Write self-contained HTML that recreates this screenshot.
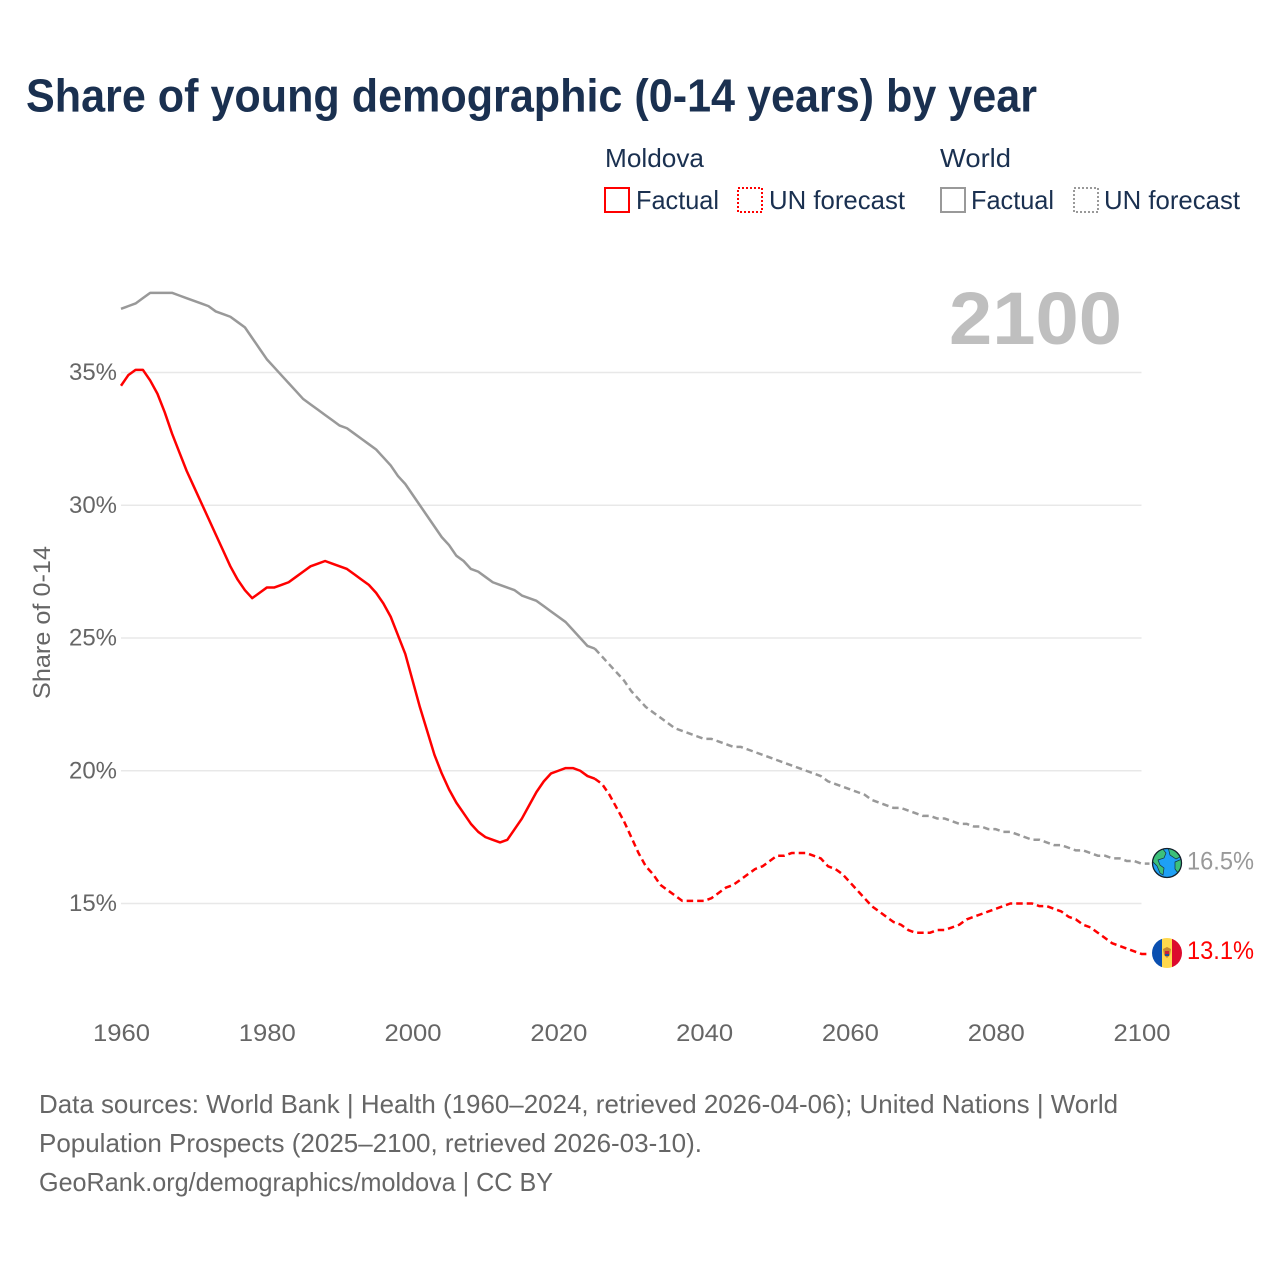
<!DOCTYPE html>
<html lang="en">
<head>
<meta charset="utf-8">
<title>Share of young demographic (0-14 years) by year</title>
<style>
html,body{margin:0;padding:0;background:#fff;}
svg{display:block;}
text{font-family:"Liberation Sans",sans-serif;}
</style>
</head>
<body>
<svg id="chart" xmlns="http://www.w3.org/2000/svg" width="1280" height="1280" viewBox="0 0 1280 1280">
  <rect width="1280" height="1280" fill="#fff"/>
  <text x="26" y="111.5" font-size="46" font-weight="700" fill="#1a3050" textLength="1011" lengthAdjust="spacingAndGlyphs">Share of young demographic (0-14 years) by year</text>

  <g font-size="26" fill="#1a3050">
    <text x="605" y="167" textLength="99" lengthAdjust="spacingAndGlyphs">Moldova</text>
    <rect x="605" y="188" width="24" height="24" fill="none" stroke="#ff0000" stroke-width="2"/>
    <text x="636" y="209" textLength="83" lengthAdjust="spacingAndGlyphs">Factual</text>
    <rect x="738" y="188" width="24" height="24" fill="none" stroke="#ff0000" stroke-width="2" stroke-dasharray="2 2"/>
    <text x="769" y="209" textLength="136" lengthAdjust="spacingAndGlyphs">UN forecast</text>
    <text x="940" y="167" textLength="71" lengthAdjust="spacingAndGlyphs">World</text>
    <rect x="941" y="188" width="24" height="24" fill="none" stroke="#999999" stroke-width="2"/>
    <text x="971" y="209" textLength="83" lengthAdjust="spacingAndGlyphs">Factual</text>
    <rect x="1074" y="188" width="24" height="24" fill="none" stroke="#999999" stroke-width="2" stroke-dasharray="2 2"/>
    <text x="1104" y="209" textLength="136" lengthAdjust="spacingAndGlyphs">UN forecast</text>
  </g>

  <g id="grid"></g>
  <text x="949" y="344" font-size="74" font-weight="700" fill="#bfbfbf" textLength="173" lengthAdjust="spacingAndGlyphs">2100</text>
  <g id="yticks" font-size="24" fill="#666666"></g>
  <g id="xticks" font-size="24" fill="#666666"></g>
  <text transform="translate(50,699) rotate(-90)" font-size="24" fill="#666666" textLength="153" lengthAdjust="spacingAndGlyphs">Share of 0-14</text>
  <g id="series"></g>

  <defs>
    <clipPath id="clip-globe"><circle cx="1167" cy="863" r="14.5"/></clipPath>
    <clipPath id="clip-md"><circle cx="1167" cy="953" r="15"/></clipPath>
  </defs>
  <g>
    <circle cx="1167" cy="863" r="14.5" fill="#1ea0f5"/>
    <g clip-path="url(#clip-globe)" fill="#3cc07a" stroke="#14303f" stroke-width="0.7">
      <path d="M1153 852 L1162 848 L1166 853 L1164 858 L1158 860 L1160 865 L1164 868 L1163 875 L1160 873 L1157 866 L1152 861 Z"/>
      <path d="M1168 847 L1177 849 L1182 856 L1176 859 L1170 855 Z"/>
      <path d="M1175 862 L1182 859 L1184 868 L1178 873 L1175 869 Z"/>
    </g>
    <circle cx="1167" cy="863" r="14.5" fill="none" stroke="#14202c" stroke-width="1.3"/>
  </g>
  <g>
    <g clip-path="url(#clip-md)">
      <rect x="1152" y="938" width="10" height="30" fill="#0a4fb0"/>
      <rect x="1162" y="938" width="10" height="30" fill="#ffd84d"/>
      <rect x="1172" y="938" width="10" height="30" fill="#dc0a2d"/>
      <path d="M1163 949 L1167 947 L1171 949 L1170 955 L1167 958 L1164 955 Z" fill="#c8872e"/>
      <rect x="1165" y="951" width="4" height="3" fill="#c8213a"/>
      <rect x="1165" y="954" width="4" height="2" fill="#1f4f9c"/>
    </g>
  </g>
  <text id="label-world" x="1187" y="869.5" font-size="25" fill="#999999" textLength="67" lengthAdjust="spacingAndGlyphs">16.5%</text>
  <text id="label-moldova" x="1187" y="959" font-size="25" fill="#ff0000" textLength="67" lengthAdjust="spacingAndGlyphs">13.1%</text>

  <g font-size="26" fill="#666666">
    <text x="39" y="1113" textLength="1079" lengthAdjust="spacingAndGlyphs">Data sources: World Bank | Health (1960–2024, retrieved 2026-04-06); United Nations | World</text>
    <text x="39" y="1152" textLength="663" lengthAdjust="spacingAndGlyphs">Population Prospects (2025–2100, retrieved 2026-03-10).</text>
    <text x="39" y="1191" textLength="514" lengthAdjust="spacingAndGlyphs">GeoRank.org/demographics/moldova | CC BY</text>
  </g>
</svg>
<script>
const xTickYears = [1960, 1980, 2000, 2020, 2040, 2060, 2080, 2100];
const yTickValues = [35, 30, 25, 20, 15];
const factualStartYear = 1960;
const forecastStartYear = 2025;
const worldFactual = [
  37.4,37.5,37.6,37.8,38.0,38.0,38.0,38.0,37.9,37.8,
  37.7,37.6,37.5,37.3,37.2,37.1,36.9,36.7,36.3,35.9,
  35.5,35.2,34.9,34.6,34.3,34.0,33.8,33.6,33.4,33.2,
  33.0,32.9,32.7,32.5,32.3,32.1,31.8,31.5,31.1,30.8,
  30.4,30.0,29.6,29.2,28.8,28.5,28.1,27.9,27.6,27.5,
  27.3,27.1,27.0,26.9,26.8,26.6,26.5,26.4,26.2,26.0,
  25.8,25.6,25.3,25.0,24.7,24.6];
const worldForecast = [
  24.6,24.3,24.0,23.7,23.4,
  23.0,22.7,22.4,22.2,22.0,21.8,21.6,21.5,21.4,21.3,
  21.2,21.2,21.1,21.0,20.9,20.9,20.8,20.7,20.6,20.5,
  20.4,20.3,20.2,20.1,20.0,19.9,19.8,19.6,19.5,19.4,
  19.3,19.2,19.1,18.9,18.8,18.7,18.6,18.6,18.5,18.4,
  18.3,18.3,18.2,18.2,18.1,18.0,18.0,17.9,17.9,17.8,
  17.8,17.7,17.7,17.6,17.5,17.4,17.4,17.3,17.2,17.2,
  17.1,17.0,17.0,16.9,16.8,16.8,16.7,16.7,16.6,16.6,16.5];
const moldovaFactual = [
  34.5,34.9,35.1,35.1,34.7,34.2,33.5,32.7,32.0,31.3,
  30.7,30.1,29.5,28.9,28.3,27.7,27.2,26.8,26.5,26.7,
  26.9,26.9,27.0,27.1,27.3,27.5,27.7,27.8,27.9,27.8,
  27.7,27.6,27.4,27.2,27.0,26.7,26.3,25.8,25.1,24.4,
  23.4,22.4,21.5,20.6,19.9,19.3,18.8,18.4,18.0,17.7,
  17.5,17.4,17.3,17.4,17.8,18.2,18.7,19.2,19.6,19.9,
  20.0,20.1,20.1,20.0,19.8,19.7];
const moldovaForecast = [
  19.7,19.5,19.1,18.6,18.1,
  17.5,16.9,16.4,16.1,15.7,15.5,15.3,15.1,15.1,15.1,
  15.1,15.2,15.4,15.6,15.7,15.9,16.1,16.3,16.4,16.6,
  16.8,16.8,16.9,16.9,16.9,16.8,16.7,16.4,16.3,16.1,
  15.8,15.5,15.2,14.9,14.7,14.5,14.3,14.2,14.0,13.9,
  13.9,13.9,14.0,14.0,14.1,14.2,14.4,14.5,14.6,14.7,
  14.8,14.9,15.0,15.0,15.0,15.0,14.9,14.9,14.8,14.7,
  14.5,14.4,14.2,14.1,13.9,13.7,13.5,13.4,13.3,13.2,13.1];

const NS = 'http://www.w3.org/2000/svg';
function xScale(year) { return 121 + (year - 1960) * (1020.5 / 140); }
function yScale(value) { return 372.5 + (35 - value) * 26.55; }

const gridGroup = document.getElementById('grid');
const yTickGroup = document.getElementById('yticks');
const xTickGroup = document.getElementById('xticks');
const seriesGroup = document.getElementById('series');

yTickValues.forEach(function (v) {
  const line = document.createElementNS(NS, 'line');
  
  
  line.setAttribute('x1', xScale(1960));
  line.setAttribute('x2', xScale(2100));
  line.setAttribute('y1', yScale(v));
  line.setAttribute('y2', yScale(v));
  line.setAttribute('stroke', '#e8e8e8');
  line.setAttribute('stroke-width', '1.4');
  gridGroup.appendChild(line);

  const label = document.createElementNS(NS, 'text');
  
  
  label.setAttribute('x', 69);
  label.setAttribute('y', yScale(v) + 7.5);
  label.setAttribute('textLength', 48);
  label.setAttribute('lengthAdjust', 'spacingAndGlyphs');
  label.textContent = v + '%';
  yTickGroup.appendChild(label);
});

xTickYears.forEach(function (year) {
  const label = document.createElementNS(NS, 'text');
  
  
  label.setAttribute('x', xScale(year) - 28);
  label.setAttribute('y', 1041);
  label.setAttribute('textLength', 57);
  label.setAttribute('lengthAdjust', 'spacingAndGlyphs');
  label.textContent = year;
  xTickGroup.appendChild(label);
});

function buildPoints(values, startYear) {
  return values.map(function (v, i) {
    return xScale(startYear + i).toFixed(2) + ',' + yScale(v).toFixed(2);
  });
}

function addLine(name, values, startYear, color, dashed) {
  const line = document.createElementNS(NS, 'polyline');
  
  
  const pts = buildPoints(values, startYear);
  if (dashed) {
    const last = values[values.length - 1];
    pts.push((xScale(startYear + values.length - 1) + 8).toFixed(2) + ',' + yScale(last).toFixed(2));
  }
  line.setAttribute('points', pts.join(' '));
  line.setAttribute('fill', 'none');
  line.setAttribute('stroke', color);
  line.setAttribute('stroke-width', '2.5');
  line.setAttribute('stroke-linejoin', 'round');
  if (dashed) {
    line.setAttribute('stroke-dasharray', '6.5 4');
  }
  seriesGroup.appendChild(line);
}

addLine('world-factual-line', worldFactual, factualStartYear, '#999999', false);
addLine('world-forecast-line', worldForecast, forecastStartYear, '#999999', true);
addLine('moldova-factual-line', moldovaFactual, factualStartYear, '#ff0000', false);
addLine('moldova-forecast-line', moldovaForecast, forecastStartYear, '#ff0000', true);

document.getElementById('label-world').textContent = worldForecast[worldForecast.length - 1].toFixed(1) + '%';
document.getElementById('label-moldova').textContent = moldovaForecast[moldovaForecast.length - 1].toFixed(1) + '%';
</script>
</body>
</html>
